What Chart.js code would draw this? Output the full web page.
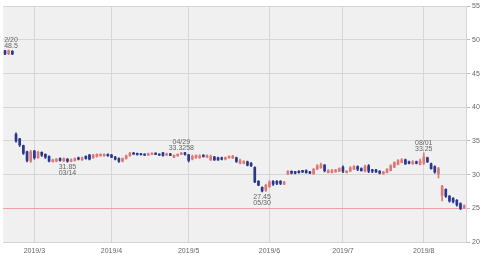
<!DOCTYPE html>
<html>
<head>
<meta charset="utf-8">
<script src="https://cdn.jsdelivr.net/npm/chart.js@4/dist/chart.umd.min.js"></script>
<style>
  html, body { margin: 0; padding: 0; background: #fff; }
  canvas { display: block; }
</style>
</head>
<body>
<canvas id="priceChart" width="480" height="254"></canvas>
<script>
// 取引日 (2019)
const dates = [
  '02/19','02/20','02/21','02/22','02/25','02/26','02/27','02/28',
  '03/01','03/04','03/05','03/06','03/07','03/08','03/11','03/12','03/13','03/14','03/15',
  '03/18','03/19','03/20','03/21','03/22','03/25','03/26','03/27','03/28','03/29',
  '04/01','04/02','04/03','04/04','04/05','04/08','04/09','04/10','04/11','04/12',
  '04/15','04/16','04/17','04/18','04/22','04/23','04/24','04/25','04/26','04/29','04/30',
  '05/01','05/02','05/03','05/06','05/07','05/08','05/09','05/10','05/13','05/14','05/15',
  '05/16','05/17','05/20','05/21','05/22','05/23','05/24','05/28','05/29','05/30','05/31',
  '06/03','06/04','06/05','06/06','06/07','06/10','06/11','06/12','06/13','06/14',
  '06/17','06/18','06/19','06/20','06/21','06/24','06/25','06/26','06/27','06/28',
  '07/01','07/02','07/03','07/05','07/08','07/09','07/10','07/11','07/12','07/15','07/16',
  '07/17','07/18','07/19','07/22','07/23','07/24','07/25','07/26','07/29','07/30','07/31',
  '08/01','08/02','08/05','08/06','08/07','08/08','08/09','08/12','08/13','08/14','08/15','08/16'
];

// 月初の目盛り
const monthTickDates = ['03/01', '04/01', '05/01', '06/03', '07/01', '08/01'];
const monthTickLabels = ['2019/3', '2019/4', '2019/5', '2019/6', '2019/7', '2019/8'];

// 四本値
const openPrices = [
  48.4,47.9,48.3,36.0,35.3,34.3,33.4,32.0,
  33.5,32.5,33.3,33.0,32.7,31.9,32.0,32.4,32.0,32.3,31.95,32.1,32.5,32.2,32.7,32.9,32.5,32.7,32.8,32.8,33.0,
  32.9,32.6,32.4,32.0,32.4,32.8,33.2,33.1,33.1,33.05,32.9,33.0,33.2,33.05,33.25,32.9,33.1,32.6,32.8,33.0,33.25,
  32.95,32.3,32.5,32.5,32.9,32.55,32.2,32.6,32.5,32.5,32.3,32.5,32.45,32.5,31.7,31.7,31.9,31.7,31.1,29.0,28.1,27.7,
  28.2,29.0,29.0,29.0,28.6,30.1,30.5,30.45,30.5,30.6,30.6,30.4,30.1,30.8,31.0,31.4,30.3,30.3,30.4,30.5,
  31.1,30.3,30.5,30.8,31.2,30.9,30.5,31.3,30.7,30.7,30.5,30.1,30.3,30.6,31.1,31.5,31.8,32.2,31.9,31.6,31.9,31.5,
  31.7,32.5,31.6,31.2,30.1,26.9,27.8,26.8,26.5,26.2,25.7,25.1
];
const highPrices = [
  48.45,48.5,48.4,36.2,35.4,34.4,33.5,33.6,
  33.6,33.5,33.4,33.1,32.8,32.3,32.4,32.5,32.5,32.4,32.35,32.5,32.6,32.6,32.8,33.0,33.0,33.1,33.1,33.1,33.1,
  33.0,32.7,32.5,32.5,32.9,33.3,33.3,33.2,33.15,33.1,33.2,33.25,33.25,33.1,33.3,33.2,33.15,32.95,33.1,33.3258,33.3,
  33.0,32.9,32.95,32.95,32.95,32.95,32.9,32.7,32.6,32.6,32.6,32.8,32.85,32.6,32.3,32.1,32.0,31.8,31.15,29.1,28.2,28.6,
  29.1,29.1,29.1,29.1,29.0,30.6,30.55,30.5,30.6,30.65,30.7,30.5,30.95,31.5,31.7,31.5,30.75,30.8,30.8,31.0,
  31.3,30.6,31.2,31.35,31.3,31.0,31.4,31.5,30.8,30.8,30.6,30.5,30.9,31.5,31.9,32.25,32.4,32.3,32.0,32.1,32.0,32.3,
  33.25,32.6,31.7,31.3,31.1,28.4,27.9,26.9,26.6,26.3,25.8,25.5
];
const lowPrices = [
  47.8,47.8,47.8,34.8,34.2,33.0,31.9,31.8,
  32.3,32.4,32.7,32.4,31.9,31.88,31.9,32.0,31.95,31.85,31.9,32.0,32.2,32.1,32.3,32.2,32.4,32.6,32.7,32.7,32.7,
  32.5,32.2,31.8,31.9,32.3,32.7,33.0,32.9,32.9,32.85,32.85,32.95,32.95,32.85,32.75,32.85,32.8,32.5,32.7,32.95,32.9,
  31.9,32.2,32.4,32.4,32.6,32.5,32.1,32.1,32.1,32.2,32.2,32.4,32.4,31.8,31.6,31.6,31.3,31.2,28.8,28.35,27.45,27.5,
  28.1,28.4,28.5,28.5,28.5,30.0,30.1,30.1,30.2,30.3,30.2,30.15,30.05,30.75,30.95,30.4,30.25,30.25,30.35,30.45,
  30.3,30.25,30.45,30.75,30.6,30.5,30.4,30.3,30.3,30.3,30.1,30.05,30.25,30.55,31.05,31.45,31.75,31.5,31.6,31.55,31.6,31.45,
  31.5,31.8,30.8,30.2,29.5,26.1,26.6,25.9,25.8,25.3,24.8,25.0
];
const closePrices = [
  47.9,48.4,47.9,35.0,34.4,33.2,32.1,33.4,
  32.5,33.3,32.9,32.6,32.0,32.2,32.3,32.1,32.4,32.0,32.2,32.4,32.3,32.5,32.4,32.3,32.9,33.0,33.0,33.0,32.8,
  32.6,32.3,32.0,32.4,32.8,33.2,33.05,33.0,32.95,32.9,33.1,33.2,33.0,32.9,32.85,33.1,32.85,32.85,33.0,33.2,33.0,
  32.1,32.7,32.85,32.8,32.7,32.85,32.7,32.2,32.2,32.3,32.55,32.7,32.75,31.95,32.1,31.95,31.4,31.3,28.9,28.45,27.6,28.4,
  28.9,28.6,28.7,28.7,28.9,30.5,30.2,30.2,30.3,30.4,30.3,30.2,30.8,31.3,31.5,30.6,30.6,30.6,30.7,30.9,
  30.5,30.5,31.0,31.2,30.8,30.6,31.2,30.5,30.5,30.45,30.2,30.4,30.8,31.3,31.8,32.1,32.2,31.6,31.7,31.9,31.7,32.0,
  32.6,31.9,30.9,30.4,30.9,28.3,26.8,26.1,26.0,25.5,25.0,25.4
];

// 高値・安値の注記
const markDays = ['02/20', '03/14', '04/29', '05/30', '08/01'];
const markTexts = ['2/20', '03/14', '04/29', '05/30', '08/01'];
const markValues = [48.5, 31.85, 33.3258, 27.45, 33.25];
const markKinds = ['high', 'low', 'high', 'low', 'high'];

// 基準線
const refLineValue = 25.05;

const UP_COLOR = '#df7777';
const DOWN_COLOR = '#283790';
const GRID_COLOR = '#d6d6d6';
const TEXT_COLOR = '#666';
const FONT_FAMILY = "'Liberation Sans', Arial, sans-serif";

const candleColors = dates.map((d, i) => closePrices[i] >= openPrices[i] ? UP_COLOR : DOWN_COLOR);

function monthLabel(i) {
    const k = monthTickDates.indexOf(dates[i]);
    return k >= 0 ? monthTickLabels[k] : '';
}

// プロット背景
const plotBackground = {
    id: 'plotBackground',
    beforeDraw(chart) {
        const { ctx, chartArea: a } = chart;
        ctx.save();
        ctx.fillStyle = '#f0f0f0';
        ctx.fillRect(a.left, a.top, a.right - a.left, a.bottom - a.top);
        ctx.restore();
    }
};

// 基準線
const refLine = {
    id: 'refLine',
    beforeDatasetsDraw(chart) {
        const { ctx, chartArea: a } = chart;
        const y = Math.round(chart.scales.y.getPixelForValue(refLineValue)) + 0.5;
        ctx.save();
        ctx.strokeStyle = '#f0a0a0';
        ctx.lineWidth = 1;
        ctx.beginPath();
        ctx.moveTo(a.left, y);
        ctx.lineTo(a.right, y);
        ctx.stroke();
        ctx.restore();
    }
};

// 注記
const markLabels = {
    id: 'markLabels',
    afterDatasetsDraw(chart) {
        const { ctx, chartArea: a } = chart;
        const xs = chart.scales.x, ys = chart.scales.y;
        ctx.save();
        ctx.font = '7px ' + FONT_FAMILY;
        ctx.fillStyle = TEXT_COLOR;
        ctx.textAlign = 'center';
        ctx.textBaseline = 'alphabetic';
        markDays.forEach(function(day, k) {
            const x0 = xs.getPixelForValue(dates.indexOf(day));
            const y = ys.getPixelForValue(markValues[k]);
            const lines = markKinds[k] === 'high'
                ? [[markTexts[k], y - 8], [String(markValues[k]), y - 2]]
                : [[String(markValues[k]), y + 7], [markTexts[k], y + 13]];
            lines.forEach(function(l) {
                const w = ctx.measureText(l[0]).width;
                const x = Math.max(x0, a.left + 1 + w / 2);
                ctx.fillText(l[0], x, l[1]);
            });
        });
        ctx.restore();
    }
};

new Chart(document.getElementById('priceChart'), {
    type: 'bar',
    data: {
        labels: dates,
        datasets: [{
            label: 'body',
            data: dates.map((d, i) => [openPrices[i], closePrices[i]]),
            backgroundColor: candleColors,
            barThickness: 2,
            minBarLength: 1,
            grouped: false
        }, {
            label: 'wick',
            data: dates.map((d, i) => [lowPrices[i], highPrices[i]]),
            backgroundColor: candleColors,
            barThickness: 1,
            grouped: false
        }]
    },
    options: {
        responsive: false,
        animation: false,
        layout: { padding: { top: 3, left: 0, right: 0, bottom: 0 } },
        plugins: {
            legend: { display: false },
            tooltip: { enabled: false }
        },
        scales: {
            x: {
                offset: true,
                grid: {
                    offset: false,
                    drawTicks: false,
                    color: function(c) { return monthLabel(c.index) ? GRID_COLOR : 'rgba(0,0,0,0)'; }
                },
                border: { display: false },
                ticks: {
                    autoSkip: false,
                    maxRotation: 0,
                    padding: 5,
                    color: TEXT_COLOR,
                    font: { size: 7, family: FONT_FAMILY },
                    callback: function(v, i) { return monthLabel(i); }
                },
                afterFit: function(s) { s.height = 12; }
            },
            y: {
                position: 'right',
                min: 20,
                max: 55,
                grid: { color: GRID_COLOR, tickLength: 4, tickColor: '#bbb' },
                border: { color: GRID_COLOR },
                ticks: {
                    stepSize: 5,
                    padding: 2,
                    color: TEXT_COLOR,
                    font: { size: 7, family: FONT_FAMILY }
                },
                afterFit: function(s) { s.width = 14; }
            }
        }
    },
    plugins: [plotBackground, refLine, markLabels]
});
</script>
</body>
</html>
